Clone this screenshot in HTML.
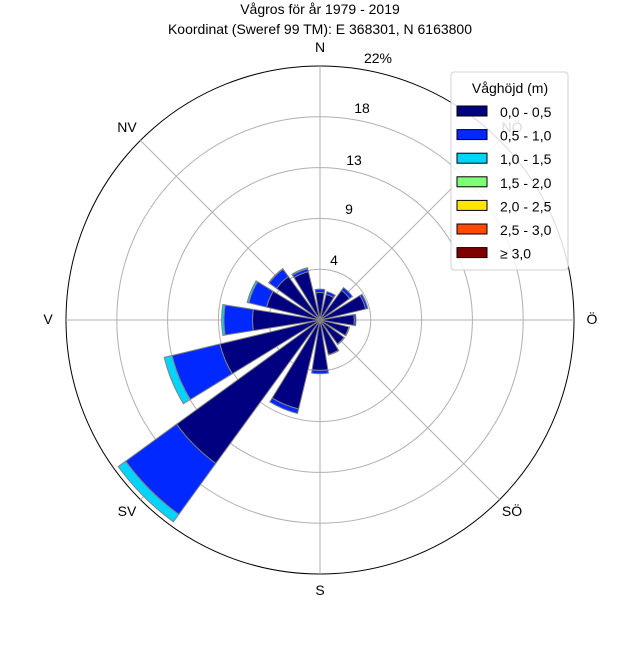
<!DOCTYPE html>
<html><head><meta charset="utf-8"><style>
body{margin:0;background:#fff}
svg{font-family:"Liberation Sans",sans-serif}
</style></head><body>
<svg id="chart" width="640" height="640" viewBox="0 0 640 640" xmlns="http://www.w3.org/2000/svg">
<text x="320" y="14" font-size="14" text-anchor="middle">Vågros för år 1979 - 2019</text>
<text x="320" y="34" font-size="14" text-anchor="middle">Koordinat (Sweref 99 TM): E 368301, N 6163800</text>
<g id="grid"></g>
<g id="bars"></g>
<g id="labels"></g>
<g id="legend"></g>
</svg>
<script>
const directions = ["N","NNÖ","NÖ","ÖNÖ","Ö","ÖSÖ","SÖ","SSÖ","S","SSV","SV","VSV","V","VNV","NV","NNV"];
const binLabels = ["0,0 - 0,5","0,5 - 1,0","1,0 - 1,5","1,5 - 2,0","2,0 - 2,5","2,5 - 3,0","≥ 3,0"];
const binColors = ["#000080","#0028ff","#00d5ff","#7dff7a","#ffe600","#ff4a00","#800000"];
// percent per direction for each height bin
const bin0 = [2.4,2.3,3.2,4.1,3.0,2.6,2.6,3.1,4.4,8.0,15.5,9.0,5.9,4.8,4.7,4.35];
const bin1 = [0.3,0.25,0.3,0.2,0.15,0.05,0.05,0.05,0.3,0.4,5.5,4.3,2.5,1.6,0.8,0.25];
const bin2 = [0,0,0,0,0,0,0,0,0,0,0.8,0.7,0.2,0.15,0.05,0.1];
const bin3 = [0,0,0,0,0,0,0,0,0,0,0,0,0,0,0,0];
const bin4 = [0,0,0,0,0,0,0,0,0,0,0,0,0,0,0,0];
const bin5 = [0,0,0,0,0,0,0,0,0,0,0,0,0,0,0,0];
const bin6 = [0,0,0,0,0,0,0,0,0,0,0,0,0,0,0,0];
const ringValues = [4.44,8.88,13.32,17.76,22.2];
const ringLabels = ["4","9","13","18","22%"];
const compassLabels = ["N","NÖ","Ö","SÖ","S","SV","V","NV"];

const NS="http://www.w3.org/2000/svg";
const cx=320, cy=320, R=254, maxVal=22.2;
const rScale=v=>v/maxVal*R;
function pt(angDeg,r){const a=angDeg*Math.PI/180;return [cx+r*Math.sin(a), cy-r*Math.cos(a)];}
function mk(tag,attrs,parent){const e=document.createElementNS(NS,tag);for(const k in attrs)e.setAttribute(k,attrs[k]);parent.appendChild(e);return e;}

const grid=document.getElementById('grid');
const outer=mk('circle',{cx,cy,r:R,fill:'none',stroke:'#000','stroke-width':1},grid);


ringValues.slice(0,-1).forEach(v=>{
  const c=mk('circle',{cx,cy,r:rScale(v),fill:'none',stroke:'#b0b0b0','stroke-width':1},grid);
  
  
});
for(let i=0;i<8;i++){
  const [x,y]=pt(i*45,R);
  const l=mk('line',{x1:cx,y1:cy,x2:x,y2:y,stroke:'#b0b0b0','stroke-width':1},grid);
  
  
}

const bins=[bin0,bin1,bin2,bin3,bin4,bin5,bin6];
const bars=document.getElementById('bars');
const half=9;
directions.forEach((d,i)=>{
  const ang=i*22.5;
  let base=0;
  bins.forEach((b,j)=>{
    const v=b[i]; if(v<=0) return;
    const r0=rScale(base), r1=rScale(base+v);
    const a0=ang-half, a1=ang+half;
    const p1=pt(a0,r0),p2=pt(a0,r1),p3=pt(a1,r1),p4=pt(a1,r0);
    const dstr=`M${p1[0]},${p1[1]} L${p2[0]},${p2[1]} A${r1},${r1} 0 0 1 ${p3[0]},${p3[1]} L${p4[0]},${p4[1]} `+(r0>0?`A${r0},${r0} 0 0 0 ${p1[0]},${p1[1]}`:'')+'Z';
    const p=mk('path',{d:dstr,fill:binColors[j],stroke:'#808080','stroke-width':1},bars);
    
    
    base+=v;
  });
});

const labels=document.getElementById('labels');
const lpos=[[320,52],[0,0],[592,324],[512,516],[320,595],[127,516],[48,324],[127,132]];
compassLabels.forEach((t,i)=>{
  let x,y;
  if(i===1){x=512;y=132;} else {[x,y]=lpos[i];}
  const e=mk('text',{x,y,'font-size':14,'text-anchor':'middle',fill:'#000'},labels);
  e.textContent=t;
  
  
});
const rlPos=[[334,265],[349,214],[354,165],[362,113],[378,63]];
ringLabels.forEach((t,i)=>{
  const e=mk('text',{x:rlPos[i][0],y:rlPos[i][1],'font-size':14,'text-anchor':'middle'},labels);
  e.textContent=t;
  
  
});

const lg=document.getElementById('legend');
const box=mk('rect',{x:451,y:72,width:117,height:198,rx:3,fill:'#fff','fill-opacity':0.85,stroke:'#d0d0d0'},lg);


const lt=mk('text',{x:510,y:93,'font-size':14,'text-anchor':'middle'},lg);
lt.textContent='Våghöjd (m)';


binLabels.forEach((t,i)=>{
  const y=106+i*23.6;
  const s=mk('rect',{x:457,y:y,width:30,height:10,fill:binColors[i],stroke:'#000','stroke-width':1},lg);
  
  
  const tx=mk('text',{x:500,y:y+11,'font-size':14},lg);
  tx.textContent=t;
  
  
});
</script>
</body></html>
